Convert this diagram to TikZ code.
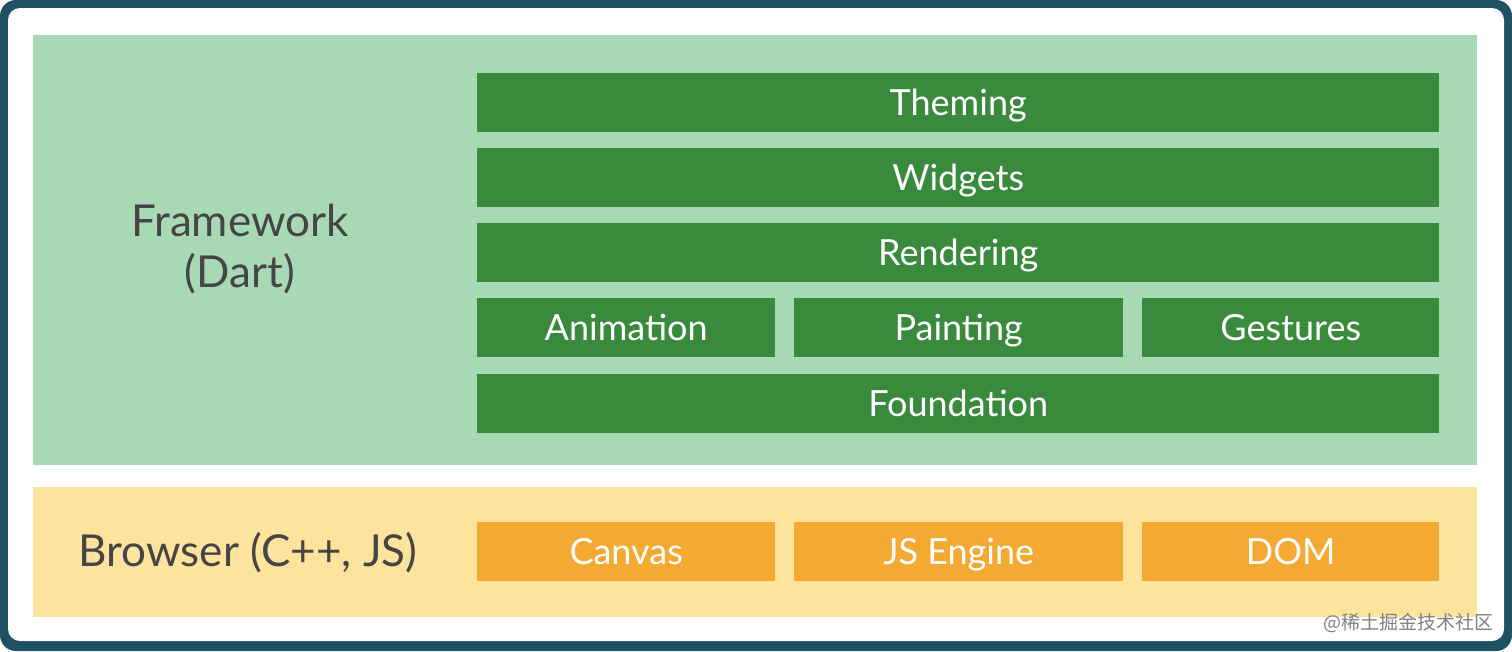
\documentclass[tikz,border=0pt]{standalone}
\usepackage{fontspec}
\setmainfont{Lato}
\newfontfamily\cjk{Noto Sans CJK SC}
\definecolor{frameteal}{HTML}{1E5262}
\definecolor{lightgreen}{HTML}{A8D9B5}
\definecolor{darkgreen}{HTML}{3A8A3E}
\definecolor{lightyellow}{HTML}{FDE39B}
\definecolor{orangebox}{HTML}{F4AA32}
\definecolor{labelgray}{HTML}{454545}
\begin{document}
\begin{tikzpicture}[x=1pt,y=-1pt,
  panel/.style={draw=none,anchor=north west,inner sep=0pt},
  layerbox/.style={draw=none,fill=darkgreen,anchor=north west,inner sep=0pt,text=white,
    font=\fontsize{36}{42}\selectfont,minimum height=59pt,text height=28pt,text depth=3pt},
  browserbox/.style={layerbox,fill=orangebox},
  sidelabel/.style={text=labelgray,font=\fontsize{44}{51}\selectfont,align=center}]
\useasboundingbox (0,0) rectangle (1512,651);
\fill[frameteal,rounded corners=16pt] (0,0) rectangle (1512,651);
\fill[white,rounded corners=12pt] (8,8) rectangle (1504,641);
\node[panel,fill=lightgreen,minimum width=1444pt,minimum height=430pt] (fw) at (33,35) {};
\node[panel,fill=lightyellow,minimum width=1444pt,minimum height=130pt] (br) at (33,487) {};
\node[layerbox,minimum width=962pt] (theming) at (477,73) {Theming};
\node[layerbox,minimum width=962pt] (widgets) at (477,148) {Widgets};
\node[layerbox,minimum width=962pt] (rendering) at (477,223) {Rendering};
\node[layerbox,minimum width=298pt] (animation) at (477,298) {Animation};
\node[layerbox,minimum width=329pt] (painting) at (794,298) {Painting};
\node[layerbox,minimum width=297pt] (gestures) at (1142,298) {Gestures};
\node[layerbox,minimum width=962pt] (foundation) at (477,374) {Foundation};
\node[browserbox,minimum width=298pt] (canvas) at (477,522) {Canvas};
\node[browserbox,minimum width=329pt] (jsengine) at (794,522) {JS Engine};
\node[browserbox,minimum width=297pt] (dom) at (1142,522) {DOM};
\node[sidelabel] (fwlabel) at (240,249) {Framework\\(Dart)};
\node[sidelabel] (brlabel) at (248,553) {Browser (C++, JS)};
\node[text=gray,font=\cjk\fontsize{19}{22}\selectfont,anchor=east,inner sep=0pt] (wm) at (1494,623) {@稀土掘金技术社区};
\end{tikzpicture}
\end{document}
